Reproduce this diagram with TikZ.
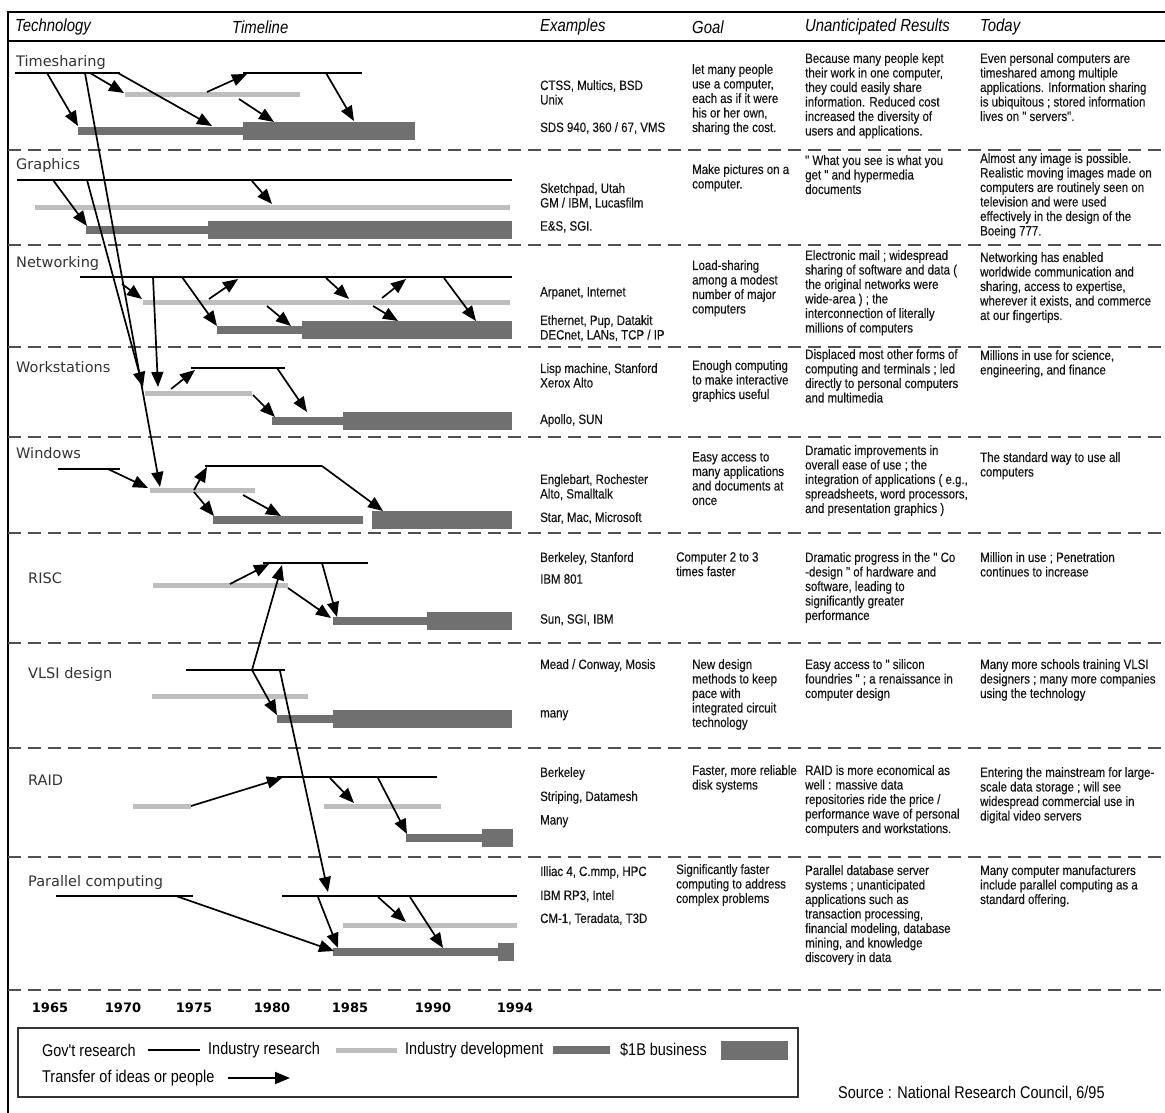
\documentclass[tikz,border=0pt]{standalone}
\usepackage{fontspec}
\setmainfont{Liberation Sans}
\newfontfamily\colfont{Liberation Sans}[FakeStretch=0.85]
\newfontfamily\bodyfont{Liberation Sans}[FakeStretch=0.85,FakeBold=0.35]
\newfontfamily\labfont{DejaVu Sans}
\usetikzlibrary{arrows.meta}
\definecolor{resgray}{HTML}{BEBEBE}
\definecolor{devgray}{HTML}{707070}
\definecolor{dashgray}{HTML}{505050}
\newcommand\GovL[4]{\draw[govline] (#2,#4) coordinate (#1s) -- (#3,#4) coordinate (#1e);}
\newcommand\ResL[4]{\draw[resline] (#2,#4) coordinate (#1s) -- (#3,#4) coordinate (#1e);}
\newcommand\DevB[4]{\draw[devbar] (#2,#4) coordinate (#1s) -- (#3,#4) coordinate (#1e);}
\newcommand\BizB[4]{\draw[bizbar] (#2,#4) coordinate (#1s) -- (#3,#4) coordinate (#1e);}
\newcommand\Xfer[5]{\coordinate (#1s) at (#2,#3); \coordinate (#1e) at (#4,#5); \draw[xfer] (#1s) -- (#1e);}
\newcommand\Col[4]{\node[coltext] (#1) at (#2,#3) {#4};}
\begin{document}
\begin{tikzpicture}[x=1pt,y=-1pt,
 govline/.style={line width=2.4pt, black},
 resline/.style={line width=5pt, resgray},
 devbar/.style={line width=8pt, devgray},
 bizbar/.style={line width=18pt, devgray},
 xfer/.style={line width=1.7pt, black, -{Triangle[length=15pt,width=12pt]}},
 sepline/.style={line width=2.6pt, dashgray, dash pattern=on 13pt off 7pt},
 coltext/.style={anchor=north west, inner sep=0pt, align=left, text=black!92,
   font={\bodyfont\fontsize{13.5}{14.5}\selectfont\lineskiplimit=-20pt}},
 rowlab/.style={anchor=west, inner sep=0pt, text=black!80, font={\labfont\fontsize{14.5}{16}\selectfont}},
 headlab/.style={anchor=west, inner sep=0pt, font={\colfont\itshape\fontsize{17.5}{19}\selectfont}},
 yearlab/.style={anchor=center, inner sep=0pt, font={\labfont\bfseries\fontsize{13}{15}\selectfont}},
 legtext/.style={anchor=west, inner sep=0pt, font={\colfont\fontsize{17}{19}\selectfont}}
]
\useasboundingbox (0,0) rectangle (1165,1113);
\fill[white] (0,0) rectangle (1165,1113);

% frame
\draw[line width=2.4pt] (8,1113) -- (8,12) -- (1165,12);
\draw[line width=2.2pt] (8,41) -- (1165,41);

% header
\node[headlab] (hTech) at (15,27) {Technology};
\node[headlab] (hTime) at (232,27) {Timeline};
\node[headlab] (hEx) at (540,27) {Examples};
\node[headlab] (hGoal) at (692,27) {Goal};
\node[headlab] (hUnant) at (805,27) {Unanticipated Results};
\node[headlab] (hToday) at (980,27) {Today};

% separators
\foreach \yy in {150,245,347,437,533,643,748,857,990}
  \draw[sepline] (8,\yy) -- (1165,\yy);

% row labels
\node[rowlab] (lTS) at (16,63) {Timesharing};
\node[rowlab] (lGR) at (16,165) {Graphics};
\node[rowlab] (lNW) at (16,263) {Networking};
\node[rowlab] (lWS) at (16,367) {Workstations};
\node[rowlab] (lWI) at (16,453) {Windows};
\node[rowlab] (lRI) at (28,578) {RISC};
\node[rowlab] (lVL) at (28,674) {VLSI design};
\node[rowlab] (lRA) at (28,780) {RAID};
\node[rowlab] (lPA) at (28,882) {Parallel computing};

% ---------- Timesharing
\GovL{tsg1}{15}{120}{73}
\GovL{tsg2}{243}{362}{73}
\ResL{tsr}{125}{300}{95}
\DevB{tsd}{78}{243}{131}
\BizB{tsb}{243}{415}{131}
\Xfer{tsa1}{47}{73}{78}{126}
\Xfer{tsa2}{90}{73}{124}{93}
\Xfer{tsa3}{118}{73}{212}{126}
\Xfer{tsa4}{207}{92}{247}{74}
\Xfer{tsa5}{239}{99}{274}{122}
\Xfer{tsa6}{326}{73}{354}{121}

% ---------- Graphics
\GovL{grg}{17}{512}{180}
\ResL{grr}{35}{510}{207}
\DevB{grd}{86}{208}{230}
\BizB{grb}{208}{512}{230}
\Xfer{gra1}{53}{180}{87}{226}
\Xfer{gra2}{252}{181}{272}{204}

% ---------- Networking
\GovL{nwg}{80}{512}{277}
\ResL{nwr}{143}{510}{302}
\DevB{nwd}{217}{302}{330}
\BizB{nwb}{302}{512}{330}
\Xfer{nwa0}{122}{284}{142}{299}
\Xfer{nwa1}{182}{277}{217}{326}
\Xfer{nwa2}{209}{299}{238}{279}
\Xfer{nwa3}{267}{306}{291}{326}
\Xfer{nwa4}{326}{278}{349}{299}
\Xfer{nwa5}{382}{298}{406}{279}
\Xfer{nwa6}{373}{306}{398}{321}
\Xfer{nwa7}{444}{278}{476}{321}

% ---------- Workstations
\GovL{wsg}{191}{285}{368}
\ResL{wsr}{145}{252}{393}
\DevB{wsd}{272}{343}{421}
\BizB{wsb}{343}{512}{421}
\Xfer{wsa1}{171}{389}{195}{370}
\Xfer{wsa2}{253}{395}{275}{417}
\Xfer{wsa3}{277}{368}{307}{412}

% ---------- Windows
\GovL{wig1}{58}{120}{469}
\GovL{wig2}{205}{322}{466}
\ResL{wir}{150}{255}{490}
\DevB{wid}{213}{363}{520}
\BizB{wib}{372}{512}{520}
\Xfer{wia1}{108}{469}{148}{488}
\Xfer{wia2}{194}{490}{207}{467}
\Xfer{wia3}{194}{492}{214}{516}
\Xfer{wia4}{243}{495}{281}{516}
\Xfer{wia5}{322}{466}{383}{511}

% ---------- RISC
\GovL{rig}{263}{368}{563}
\ResL{rir}{153}{288}{585}
\DevB{rid}{333}{427}{621}
\BizB{rib}{427}{512}{621}
\Xfer{ria1}{230}{584}{269}{564}
\Xfer{ria3}{322}{563}{337}{617}
\Xfer{ria4}{288}{588}{331}{618}

% ---------- VLSI
\GovL{vlg}{186}{285}{670}
\ResL{vlr}{152}{308}{696}
\DevB{vld}{277}{333}{719}
\BizB{vlb}{333}{512}{719}
\Xfer{vla1}{252}{670}{277}{715}

% ---------- RAID
\GovL{rag}{277}{437}{777}
\ResL{rar1}{133}{191}{806}
\ResL{rar2}{324}{441}{806}
\DevB{rad}{406}{482}{838}
\BizB{rab}{482}{513}{838}
\Xfer{raa1}{191}{806}{282}{778}
\Xfer{raa2}{330}{778}{354}{803}
\Xfer{raa3}{378}{778}{407}{834}

% ---------- Parallel
\GovL{pag1}{56}{193}{896}
\GovL{pag2}{282}{517}{896}
\ResL{par}{343}{517}{925}
\DevB{pad}{333}{498}{952}
\BizB{pab}{498}{514}{952}
\Xfer{paa1}{176}{896}{334}{951}
\Xfer{paa3}{318}{897}{338}{948}
\Xfer{paa4}{378}{897}{406}{922}
\Xfer{paa5}{410}{897}{443}{948}

% ---------- long transfers
\Xfer{la}{85}{73}{160}{487}
\Xfer{lb}{87}{180}{143}{387}
\Xfer{ld}{153}{277}{158}{387}
\Xfer{lv1}{252}{670}{282}{565}
\Xfer{lv2}{280}{671}{328}{892}

% ---------- years
\node[yearlab] (y65) at (50,1008) {1965};
\node[yearlab] (y70) at (123,1008) {1970};
\node[yearlab] (y75) at (194,1008) {1975};
\node[yearlab] (y80) at (272,1008) {1980};
\node[yearlab] (y85) at (350,1008) {1985};
\node[yearlab] (y90) at (433,1008) {1990};
\node[yearlab] (y94) at (515,1008) {1994};

% ---------- text columns
% Timesharing
\Col{tsEx1}{540}{80}{CTSS, Multics, BSD\\Unix}
\Col{tsEx2}{540}{122}{SDS 940, 360 / 67, VMS}
\Col{tsGo}{692}{64}{let many people\\use a computer,\\each as if it were\\his or her own,\\sharing the cost.}
\Col{tsUn}{805}{53}{Because many people kept\\their work in one computer,\\they could easily share\\information. Reduced cost\\increased the diversity of\\users and applications.}
\Col{tsTo}{980}{53}{Even personal computers are\\timeshared among multiple\\applications. Information sharing\\is ubiquitous ; stored information\\lives on " servers".}
% Graphics
\Col{grEx1}{540}{183}{Sketchpad, Utah\\GM / IBM, Lucasfilm}
\Col{grEx2}{540}{221}{E\&S, SGI.}
\Col{grGo}{692}{164}{Make pictures on a\\computer.}
\Col{grUn}{805}{155}{" What you see is what you\\get " and hypermedia\\documents}
\Col{grTo}{980}{153}{Almost any image is possible.\\Realistic moving images made on\\computers are routinely seen on\\television and were used\\effectively in the design of the\\Boeing 777.}
% Networking
\Col{nwEx1}{540}{287}{Arpanet, Internet}
\Col{nwEx2}{540}{315}{Ethernet, Pup, Datakit\\DECnet, LANs, TCP / IP}
\Col{nwGo}{692}{260}{Load-sharing\\among a modest\\number of major\\computers}
\Col{nwUn}{805}{250}{Electronic mail ; widespread\\sharing of software and data (\\the original networks were\\wide-area ) ; the\\interconnection of literally\\millions of computers}
\Col{nwTo}{980}{252}{Networking has enabled\\worldwide communication and\\sharing, access to expertise,\\wherever it exists, and commerce\\at our fingertips.}
% Workstations
\Col{wsEx1}{540}{363}{Lisp machine, Stanford\\Xerox Alto}
\Col{wsEx2}{540}{414}{Apollo, SUN}
\Col{wsGo}{692}{360}{Enough computing\\to make interactive\\graphics useful}
\Col{wsUn}{805}{349}{Displaced most other forms of\\computing and terminals ; led\\directly to personal computers\\and multimedia}
\Col{wsTo}{980}{350}{Millions in use for science,\\engineering, and finance}
% Windows
\Col{wiEx1}{540}{474}{Englebart, Rochester\\Alto, Smalltalk}
\Col{wiEx2}{540}{512}{Star, Mac, Microsoft}
\Col{wiGo}{692}{452}{Easy access to\\many applications\\and documents at\\once}
\Col{wiUn}{805}{445}{Dramatic improvements in\\overall ease of use ; the\\integration of applications ( e.g.,\\spreadsheets, word processors,\\and presentation graphics )}
\Col{wiTo}{980}{452}{The standard way to use all\\computers}
% RISC
\Col{riEx1}{540}{552}{Berkeley, Stanford}
\Col{riEx2}{540}{574}{IBM 801}
\Col{riEx3}{540}{614}{Sun, SGI, IBM}
\Col{riGo}{676}{552}{Computer 2 to 3\\times faster}
\Col{riUn}{805}{552}{Dramatic progress in the " Co\\-design " of hardware and\\software, leading to\\significantly greater\\performance}
\Col{riTo}{980}{552}{Million in use ; Penetration\\continues to increase}
% VLSI
\Col{vlEx1}{540}{659}{Mead / Conway, Mosis}
\Col{vlEx2}{540}{710}{many}
\Col{vlGo}{692}{659}{New design\\methods to keep\\pace with\\integrated circuit\\technology}
\Col{vlUn}{805}{659}{Easy access to " silicon\\foundries " ; a renaissance in\\computer design}
\Col{vlTo}{980}{659}{Many more schools training VLSI\\designers ; many more companies\\using the technology}
% RAID
\Col{raEx1}{540}{767}{Berkeley}
\Col{raEx2}{540}{791}{Striping, Datamesh}
\Col{raEx3}{540}{815}{Many}
\Col{raGo}{692}{765}{Faster, more reliable\\disk systems}
\Col{raUn}{805}{765}{RAID is more economical as\\well : massive data\\repositories ride the price /\\performance wave of personal\\computers and workstations.}
\Col{raTo}{980}{767}{Entering the mainstream for large-\\scale data storage ; will see\\widespread commercial use in\\digital video servers}
% Parallel
\Col{paEx1}{540}{866}{Illiac 4, C.mmp, HPC}
\Col{paEx2}{540}{890}{IBM RP3, Intel}
\Col{paEx3}{540}{913}{CM-1, Teradata, T3D}
\Col{paGo}{676}{864}{Significantly faster\\computing to address\\complex problems}
\Col{paUn}{805}{865}{Parallel database server\\systems ; unanticipated\\applications such as\\transaction processing,\\financial modeling, database\\mining, and knowledge\\discovery in data}
\Col{paTo}{980}{865}{Many computer manufacturers\\include parallel computing as a\\standard offering.}

% ---------- legend
\draw[line width=2pt, black!80] (18,1028) rectangle (798,1097);
\node[legtext] (lg1) at (42,1050) {Gov't research};
\coordinate (lgg1) at (148,1050); \coordinate (lgg2) at (200,1050);
\draw[govline] (lgg1) -- (lgg2);
\node[legtext] (lg2) at (208,1050) {Industry research};
\coordinate (lgr1) at (336,1050); \coordinate (lgr2) at (397,1050);
\draw[resline] (lgr1) -- (lgr2);
\node[legtext] (lg3) at (405,1050) {Industry development};
\coordinate (lgd1) at (553,1050); \coordinate (lgd2) at (610,1050);
\draw[devbar] (lgd1) -- (lgd2);
\node[legtext] (lg4) at (620,1050) {\$1B business};
\fill[devgray] (721,1041) rectangle (788,1060);
\node[legtext] (lg5) at (42,1078) {Transfer of ideas or people};
\coordinate (lga1) at (228,1078); \coordinate (lga2) at (290,1078);
\draw[xfer] (lga1) -- (lga2);

\node[legtext] (src) at (838,1093) {Source : National Research Council, 6/95};
\end{tikzpicture}
\end{document}
